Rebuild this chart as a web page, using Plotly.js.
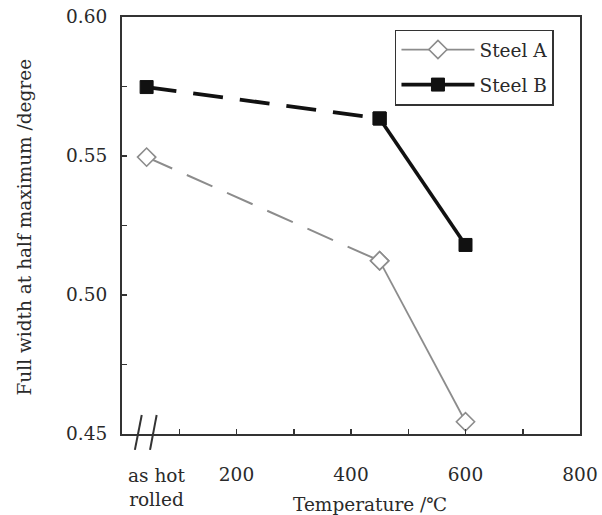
<!DOCTYPE html>
<html>
<head>
<meta charset="utf-8">
<script src="https://cdn.plot.ly/plotly-3.0.1.min.js"></script>
<style>html,body{margin:0;padding:0;background:#fff;}#chart{width:602px;height:515px;}</style>
</head>
<body>
<div id="chart"></div>
<script>
// Data (x position of "as hot rolled" placed left of the axis break)
const temps = [43, 450, 600];
const steelA = [0.5496, 0.5123, 0.4544];
const steelB = [0.5748, 0.5635, 0.518];
const seriesNames = ['Steel A', 'Steel B'];
const xTickVals = [100, 200, 300, 400, 500, 600, 700, 800];
const xTickText = ['', '200', '', '400', '', '600', '', '800'];
const yTickVals = [0.45, 0.475, 0.50, 0.525, 0.55, 0.575, 0.60];
const yTickText = ['0.45', '', '0.50', '', '0.55', '', '0.60'];
const hotRolledLabel = 'as hot<br>rolled';
const hotRolledLabelX = 61;
const xTitle = 'Temperature /℃';
const yTitle = 'Full width at half maximum /degree';

const FONT = 'DejaVu Serif';
const FS = 18.5;
const TXT = '#2a2a2a';
const grayA = '#8c8c8c';
const blackB = '#111';

const markerA = {symbol: 'diamond', size: 14, color: '#fff', line: {color: grayA, width: 1.6}};
const markerB = {symbol: 'square', size: 13, color: blackB, line: {color: blackB, width: 1}};

const traces = [
  {x: temps.slice(1), y: steelA.slice(1), name: seriesNames[0], legendgroup: 'A', mode: 'lines+markers',
   line: {color: grayA, width: 1.8}, marker: markerA},
  {x: temps.slice(0, 2), y: steelA.slice(0, 2), name: seriesNames[0], legendgroup: 'A', showlegend: false, mode: 'lines+markers',
   line: {color: grayA, width: 2, dash: '28px,16px'}, marker: markerA},
  {x: temps.slice(1), y: steelB.slice(1), name: seriesNames[1], legendgroup: 'B', mode: 'lines+markers',
   line: {color: blackB, width: 3.6}, marker: markerB},
  {x: temps.slice(0, 2), y: steelB.slice(0, 2), name: seriesNames[1], legendgroup: 'B', showlegend: false, mode: 'lines+markers',
   line: {color: blackB, width: 3.8, dash: '30px,17px'}, marker: markerB}
];

const layout = {
  width: 602, height: 515,
  margin: {l: 122, r: 22, t: 17, b: 81},
  paper_bgcolor: '#fff', plot_bgcolor: '#fff',
  font: {family: FONT, size: FS, color: TXT},
  showlegend: true,
  legend: {
    x: 0.596, y: 0.97, xanchor: 'left', yanchor: 'top',
    bordercolor: '#333', borderwidth: 1.5, bgcolor: '#fff',
    font: {family: FONT, size: FS, color: TXT},
    traceorder: 'grouped', tracegroupgap: 8, itemwidth: 73
  },
  xaxis: {
    range: [0, 800], tickvals: xTickVals, ticktext: xTickText,
    ticks: 'inside', ticklen: 5, tickwidth: 1.5, tickcolor: '#333',
    showline: true, linecolor: '#333', linewidth: 2, mirror: true,
    showgrid: false, zeroline: false, ticklabelstandoff: 23,
    tickfont: {family: FONT, size: FS, color: TXT}
  },
  yaxis: {
    range: [0.45, 0.60], tickvals: yTickVals, ticktext: yTickText,
    ticks: 'inside', ticklen: 5, tickwidth: 1.5, tickcolor: '#333',
    showline: true, linecolor: '#333', linewidth: 2, mirror: true,
    showgrid: false, zeroline: false, ticklabelstandoff: 9,
    tickfont: {family: FONT, size: FS, color: TXT}
  },
  annotations: [
    {text: hotRolledLabel, xref: 'x', yref: 'paper', x: hotRolledLabelX, y: -0.07, xanchor: 'center', yanchor: 'top',
     showarrow: false, font: {family: FONT, size: FS, color: TXT}},
    {text: xTitle, xref: 'paper', yref: 'paper', x: 0.5415, y: -0.17, xanchor: 'center', yanchor: 'middle',
     showarrow: false, font: {family: FONT, size: FS, color: TXT}},
    {text: yTitle, xref: 'paper', yref: 'paper', x: -0.2118, y: 0.4976, xanchor: 'center', yanchor: 'middle',
     textangle: -90, showarrow: false, font: {family: FONT, size: FS, color: TXT}}
  ],
  shapes: [
    {type: 'line', xref: 'x', yref: 'paper', x0: 22.5, y0: -0.038, x1: 34.5, y1: 0.0456, line: {color: '#333', width: 2}},
    {type: 'line', xref: 'x', yref: 'paper', x0: 49, y0: -0.038, x1: 60.5, y1: 0.0456, line: {color: '#333', width: 2}}
  ]
};

Plotly.newPlot('chart', traces, layout, {staticPlot: true, displayModeBar: false});
</script>
</body>
</html>
